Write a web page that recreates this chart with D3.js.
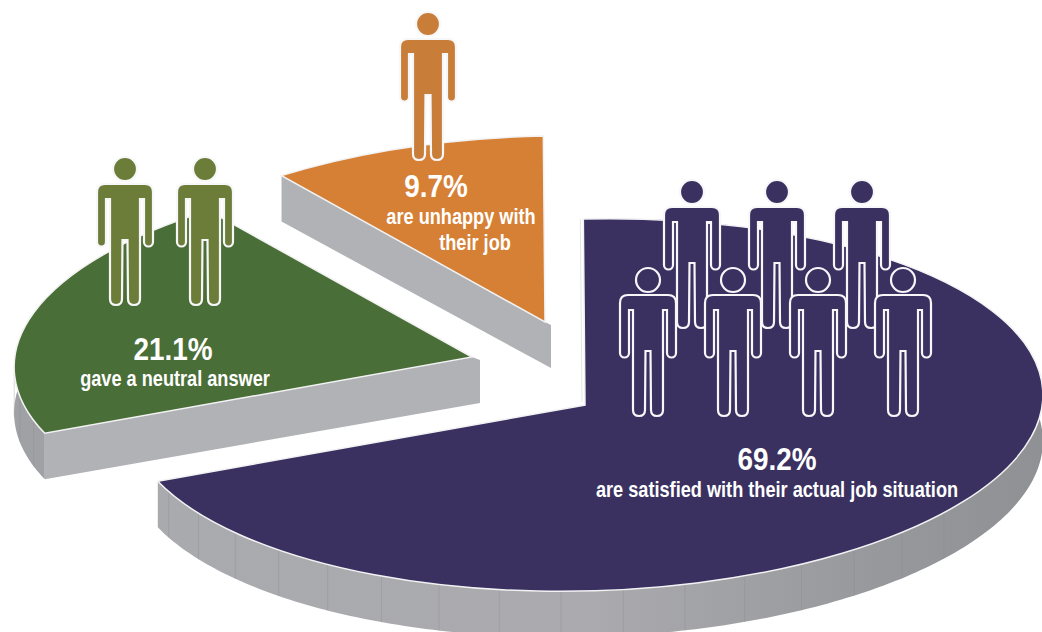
<!DOCTYPE html>
<html>
<head>
<meta charset="utf-8">
<title>Job satisfaction</title>
<script src="https://cdn.jsdelivr.net/npm/d3@7"></script>
<style>
  html, body { margin: 0; padding: 0; background: #fff; }
  svg { display: block; }
  text { font-family: "Liberation Sans", sans-serif; font-weight: 700; fill: #fff; text-anchor: middle; }
  .pct { font-size: 31px; }
  .note { font-size: 22px; }
</style>
</head>
<body>
<svg id="chart" width="1042" height="632"></svg>
<script>
// Data
const answers = ['satisfied', 'neutral', 'unhappy'];
const shares = [69.2, 21.1, 9.7];
const shareLabels = ['69.2%', '21.1%', '9.7%'];
const notes = [
  ['are satisfied with their actual job situation'],
  ['gave a neutral answer'],
  ['are unhappy with', 'their job']
];
const peopleCounts = [7, 2, 1];

// Colours
const faceColors = ['#3a3161', '#4a6e37', '#d68036'];
const figureColors = ['#3a3161', '#6b7d39', '#c87d38'];
const rimColors = ['url(#rim)', '#a0a1a5', '#b1b2b6'];

// Layout of each exploded slice
const rx = 458, ry = 186, depth = 46, tilt = -1.5;
const placement = {
  satisfied: {
    apex: [585, 405],
    rows: [{ x: 692, y: 192, step: 85, n: 3 }, { x: 648, y: 280, step: 85, n: 4 }],
    pct: [777, 470],
    lines: [[777, 497]]
  },
  neutral: {
    apex: [472, 357],
    rows: [{ x: 125, y: 169, step: 80, n: 2 }],
    pct: [173, 360],
    lines: [[175, 386]],
    capX: 8
  },
  unhappy: {
    apex: [545, 322],
    rows: [{ x: 428, y: 24, step: 0, n: 1 }],
    pct: [436, 197],
    lines: [[461, 224], [475, 250]],
    capX: 6
  }
};

const svg = d3.select('#chart');
const defs = svg.append('defs');

// rim shading, in the coordinates of a slice group
const rimGradient = defs.append('linearGradient')
  .attr('id', 'rim')
  .attr('gradientUnits', 'userSpaceOnUse')
  .attr('x1', -470).attr('x2', 470).attr('y1', 0).attr('y2', 0);
rimGradient.append('stop').attr('offset', 0).attr('stop-color', '#a9aaae');
rimGradient.append('stop').attr('offset', 0.5).attr('stop-color', '#ababaf');
rimGradient.append('stop').attr('offset', 0.8).attr('stop-color', '#98999d');
rimGradient.append('stop').attr('offset', 1).attr('stop-color', '#8e9093');

const rad = Math.PI / 180;
const pie = d3.pie().sort(null).startAngle(0.4 * rad).endAngle(360.4 * rad);
const arcs = pie(shares);
const arc = d3.arc().innerRadius(0).outerRadius(ry);

// point on the tilted ellipse, relative to the apex
const rimPoint = a => {
  const x = rx * Math.sin(a), y = -ry * Math.cos(a);
  const t = tilt * rad;
  return [x * Math.cos(t) - y * Math.sin(t), x * Math.sin(t) + y * Math.cos(t)];
};

const rimArea = d3.area()
  .x(a => rimPoint(a)[0])
  .y0(a => rimPoint(a)[1])
  .y1(a => rimPoint(a)[1] + depth);

const figurePath = 'M-20,15 L20,15 Q28,15 28,23 L28,73 A4.5,4.5 0 0 1 19,73 L19,30 L15,30 L15,130 Q15,136 9,136 Q3,136 3,130 ' +
  'L2.5,71 L-2.5,71 L-3,130 Q-3,136 -9,136 Q-15,136 -15,130 L-15,30 L-19,30 L-19,73 A4.5,4.5 0 0 1 -28,73 L-28,23 Q-28,15 -20,15 Z';

function drawFigure(x, y, color) {
  const fig = svg.append('g').attr('transform', `translate(${x},${y})`)
    .attr('fill', color).attr('stroke', '#f7f7f9').attr('stroke-width', 2.2);
  fig.append('circle').attr('r', 12);
  fig.append('path').attr('d', figurePath);
}

function drawText(cls, x, y, widthScale, str) {
  svg.append('text').attr('class', cls)
    .attr('transform', `translate(${x},${y}) scale(${widthScale},1)`)
    .text(str);
}

// drawn back to front
[2, 1, 0].forEach(i => {
  const d = arcs[i];
  const place = placement[answers[i]];
  const g = svg.append('g').attr('class', 'slice ' + answers[i])
    .attr('transform', `translate(${place.apex})`);

  // only the rim on the near half of the ellipse shows, the face hides the rest
  const from = Math.max(d.startAngle, 80 * rad);
  const to = Math.min(d.endAngle, 280 * rad);
  if (to > from) {
    const n = Math.ceil((to - from) * 60);
    const angles = d3.range(n + 1).map(k => from + (to - from) * k / n);
    g.append('path').attr('d', rimArea(angles)).attr('fill', rimColors[i]);

    // panel seams on the rim
    d3.range(-51, 90, 7.8).map(v => (180 + v) * rad)
      .filter(a => a > from && a < to)
      .forEach(a => {
        const [x, y] = rimPoint(a);
        g.append('line')
          .attr('x1', x).attr('x2', x)
          .attr('y1', y).attr('y2', y + depth)
          .attr('stroke', '#88898d').attr('stroke-width', 0.8).attr('opacity', 0.4);
      });
  }

  // straight cut wall facing the viewer
  if (place.capX) {
    const [x, y] = rimPoint(d.startAngle);
    g.append('path')
      .attr('d', d3.line()([[x, y], [x, y + depth], [place.capX, depth], [place.capX, 3], [0, 0]]) + 'Z')
      .attr('fill', '#b1b2b6');
  } else {
    // pale sliver along the far cut
    const [x, y] = rimPoint(d.startAngle);
    g.append('line').attr('x1', -3).attr('x2', x - 3)
      .attr('y1', -3).attr('y2', y)
      .attr('stroke', '#e4e5e7').attr('stroke-width', 1);
  }

  // top face
  g.append('path')
    .attr('d', arc(d))
    .attr('transform', `rotate(${tilt}) scale(${rx / ry},1)`)
    .attr('fill', faceColors[i])
    .attr('stroke', '#f2f2f3')
    .attr('stroke-width', 1.5)
    .style('vector-effect', 'non-scaling-stroke');

  // people
  let left = peopleCounts[i];
  place.rows.forEach(row => {
    d3.range(Math.min(row.n, left)).forEach(k => {
      drawFigure(row.x + k * row.step, row.y, figureColors[i]);
    });
    left -= row.n;
  });

  // labels
  drawText('pct', place.pct[0], place.pct[1], 0.9, shareLabels[i]);
  notes[i].forEach((line, k) => {
    drawText('note', place.lines[k][0], place.lines[k][1], 0.826, line);
  });
});
</script>
</body>
</html>
